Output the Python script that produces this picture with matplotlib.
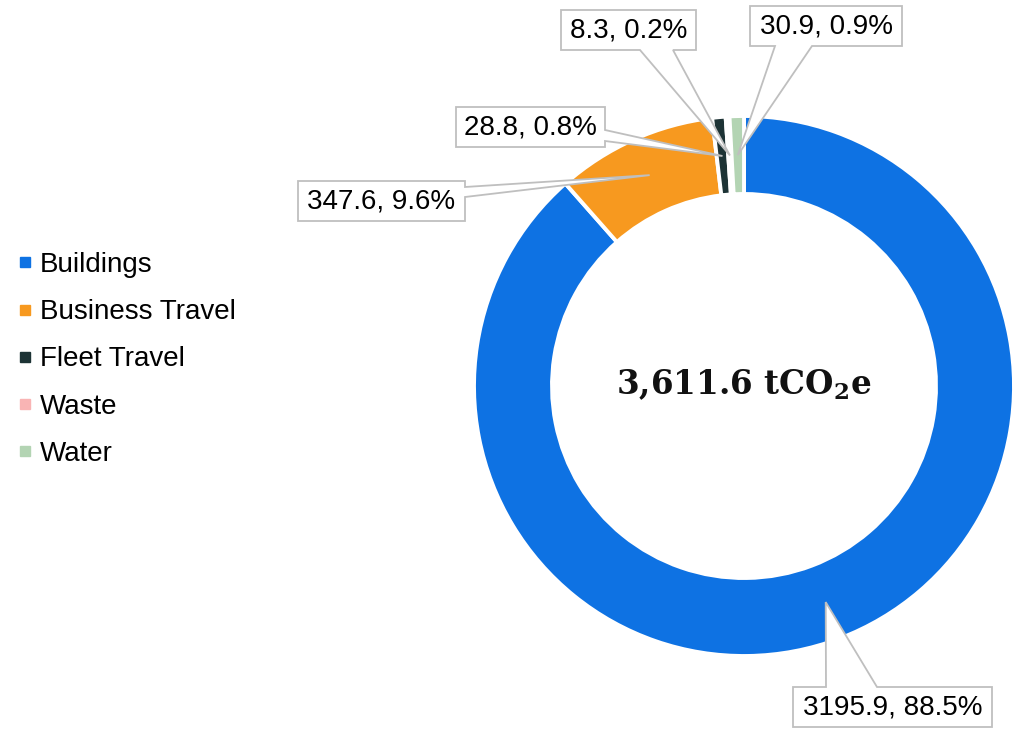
import numpy as np
import matplotlib
matplotlib.use("Agg")
import matplotlib.pyplot as plt
from matplotlib.patches import Polygon
from matplotlib.lines import Line2D

plt.rcParams["mathtext.fontset"] = "dejavuserif"

# Emissions by source (tCO2e)
categories = ["Buildings", "Business Travel", "Fleet Travel", "Waste", "Water"]
values = [3195.9, 347.6, 28.8, 8.3, 30.9]
colors = ["#0E72E3", "#F7991F", "#1D3335", "#F9B4B4", "#B3D4B3"]
total_reported = 3611.6

W, H = 1024, 735
fig = plt.figure(figsize=(W / 100, H / 100), dpi=100)
ax = fig.add_axes([0, 0, 1, 1])


def P(x, y):
    """Layout helper: canvas pixel position (top-left origin) -> data coords."""
    return (x, H - y)


cx, cy = P(744, 386)
R_OUT, RING = 270, 78

wedges, _ = ax.pie(
    values, colors=colors, startangle=90, counterclock=False,
    center=(cx, cy), radius=R_OUT,
    wedgeprops=dict(width=RING, edgecolor="white", linewidth=2.8),
)
ax.set_xlim(0, W)
ax.set_ylim(0, H)
ax.set_aspect("equal")
ax.axis("off")

# Centre total
ax.text(cx, cy + 1, f"{total_reported:,.1f} tCO" + r"$_\mathbf{2}$" + "e",
        ha="center", va="center", fontsize=23.5, fontweight="bold",
        family=["DejaVu Serif"], color="#111111")

# Callout labels: box extents (x0, y0, x1, y1), pointer side, pointer base span
callouts = [
    ((793, 687, 992, 727), "top", (826, 877)),
    ((298, 181, 465, 221), "right", (187, 197)),
    ((456, 107, 605, 147), "right", (130, 141)),
    ((561, 10, 696, 50), "bottom", (640, 673)),
    ((750, 6, 902, 46), "bottom", (775, 812)),
]

total = sum(values)
tip_r = R_OUT - RING / 2
for w, val, (box, side, (a, b)) in zip(wedges, values, callouts):
    ang = np.deg2rad((w.theta1 + w.theta2) / 2)
    tip = (cx + tip_r * np.cos(ang), cy + tip_r * np.sin(ang))
    x0, y0, x1, y1 = box
    if side == "top":
        pts = [P(x0, y0), P(a, y0), tip, P(b, y0), P(x1, y0), P(x1, y1), P(x0, y1)]
    elif side == "right":
        pts = [P(x0, y0), P(x1, y0), P(x1, a), tip, P(x1, b), P(x1, y1), P(x0, y1)]
    else:
        pts = [P(x0, y0), P(x1, y0), P(x1, y1), P(b, y1), tip, P(a, y1), P(x0, y1)]
    ax.add_patch(Polygon(pts, closed=True, facecolor="white",
                         edgecolor="#BFBFBF", linewidth=1.3, zorder=5))
    tx, ty = P((x0 + x1) / 2, (y0 + y1) / 2)
    ax.text(tx, ty, f"{val}, {val / total * 100:.1f}%", ha="center",
            va="center", fontsize=20, family="Liberation Sans",
            color="black", zorder=6)

# Legend
handles = [Line2D([], [], linestyle="none", marker="s", markersize=7.5,
                  markerfacecolor=c, markeredgecolor=c) for c in colors]
ax.legend(handles, categories, loc="upper left",
          bbox_to_anchor=(17 / W, 1 - 252 / H), frameon=False,
          prop=dict(family="Liberation Sans", size=20),
          handlelength=0.6, handletextpad=0.22, labelspacing=0.765,
          borderpad=0, borderaxespad=0)

fig.savefig("out.png", dpi=100, facecolor="white")
